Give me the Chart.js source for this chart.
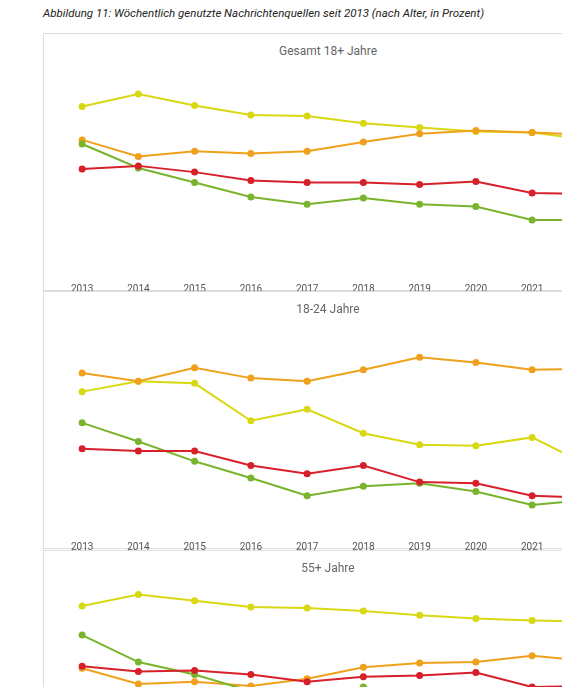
<!DOCTYPE html>
<html><head><meta charset="utf-8">
<script src="https://cdn.jsdelivr.net/npm/chart.js@4"></script>
<style>
html,body{margin:0;padding:0;width:562px;height:687px;overflow:hidden;background:#fff;font-family:Roboto,sans-serif}
#head{position:absolute;left:43px;top:6px;font-size:11.5px;font-style:italic;color:#222}
.panel{position:absolute;left:43px;width:568px;height:258px;border:1px solid #ddd;box-sizing:border-box}
.panel .t{position:absolute;top:10px;left:0;width:568px;text-align:center;font-size:12px;color:#666}
.panel canvas{position:absolute;left:-1px;top:-1px}
</style></head><body>
<div id="head">Abbildung 11: Wöchentlich genutzte Nachrichtenquellen seit 2013 (nach Alter, in Prozent)</div>
<div class="panel" style="top:33px"><div class="t">Gesamt 18+ Jahre</div><canvas id="c1"></canvas></div>
<div class="panel" style="top:291px"><div class="t">18-24 Jahre</div><canvas id="c2"></canvas></div>
<div class="panel" style="top:550px"><div class="t">55+ Jahre</div><canvas id="c3"></canvas></div>
<script>
const years = ['2013','2014','2015','2016','2017','2018','2019','2020','2021','2022'];

const allYellow = [80,86,80.5,76,75.5,72,70,68,67.5,64];
const allOrange = [64,56,58.5,57.5,58.5,63,67,68.5,67.5,66.5];
const allGreen  = [62,50.5,43.5,36.5,33,36,33,32,25.5,25.5];
const allRed    = [50,51.5,48.5,44.5,43.5,43.5,42.5,44,38.5,38];

const youngYellow = [67,72,71,53,58.5,47,41.5,41,45,31.5];
const youngOrange = [76,72,78.5,73.5,72,77.5,83.5,81,77.5,78];
const youngGreen  = [52,43,33.5,25.5,17,21.5,23,19,12.5,15];
const youngRed    = [39.5,38.5,38.5,31.5,27.5,31.5,23.5,23,17,16];

const oldYellow = [88.5,94,91,88,87.5,86,84,82.5,81.5,81];
const oldOrange = [58.5,51,52,50,53.5,59,61,61.5,64.5,62];
const oldGreen  = [74.5,61.5,55.5,47.5,45,49.5,45,43,40,38];
const oldRed    = [59.5,57,57.5,55.5,52,54.5,55,56.5,49.5,50];

const colors = {yellow:'#d8d813', orange:'#f0a11c', green:'#78b42c', red:'#d7202a'};

function ds(data, c){
  return {data, borderColor:c, backgroundColor:c, borderWidth:2, pointRadius:2.5, pointHoverRadius:2.5, tension:0};
}
function make(id, y, o, g, r){
  const el = document.getElementById(id);
  el.width = 580; el.height = 264;
  el.style.width = '580px'; el.style.height = '264px';
  new Chart(el, {
    type:'line',
    data:{labels:years, datasets:[ds(r,colors.red), ds(g,colors.green), ds(o,colors.orange), ds(y,colors.yellow)]},
    options:{
      responsive:false, animation:false,
      layout:{padding:{left:11, right:6.5, top:32, bottom:0}},
      plugins:{legend:{display:false}, tooltip:{enabled:false}},
      scales:{
        x:{offset:true, grid:{display:false}, border:{display:false},
           ticks:{color:'#555', font:{size:10, family:'Roboto'}, padding:2, maxRotation:0}},
        y:{display:false, min:0, max:100}
      }
    }
  });
}
make('c1', allYellow, allOrange, allGreen, allRed);
make('c2', youngYellow, youngOrange, youngGreen, youngRed);
make('c3', oldYellow, oldOrange, oldGreen, oldRed);
</script>
</body></html>
